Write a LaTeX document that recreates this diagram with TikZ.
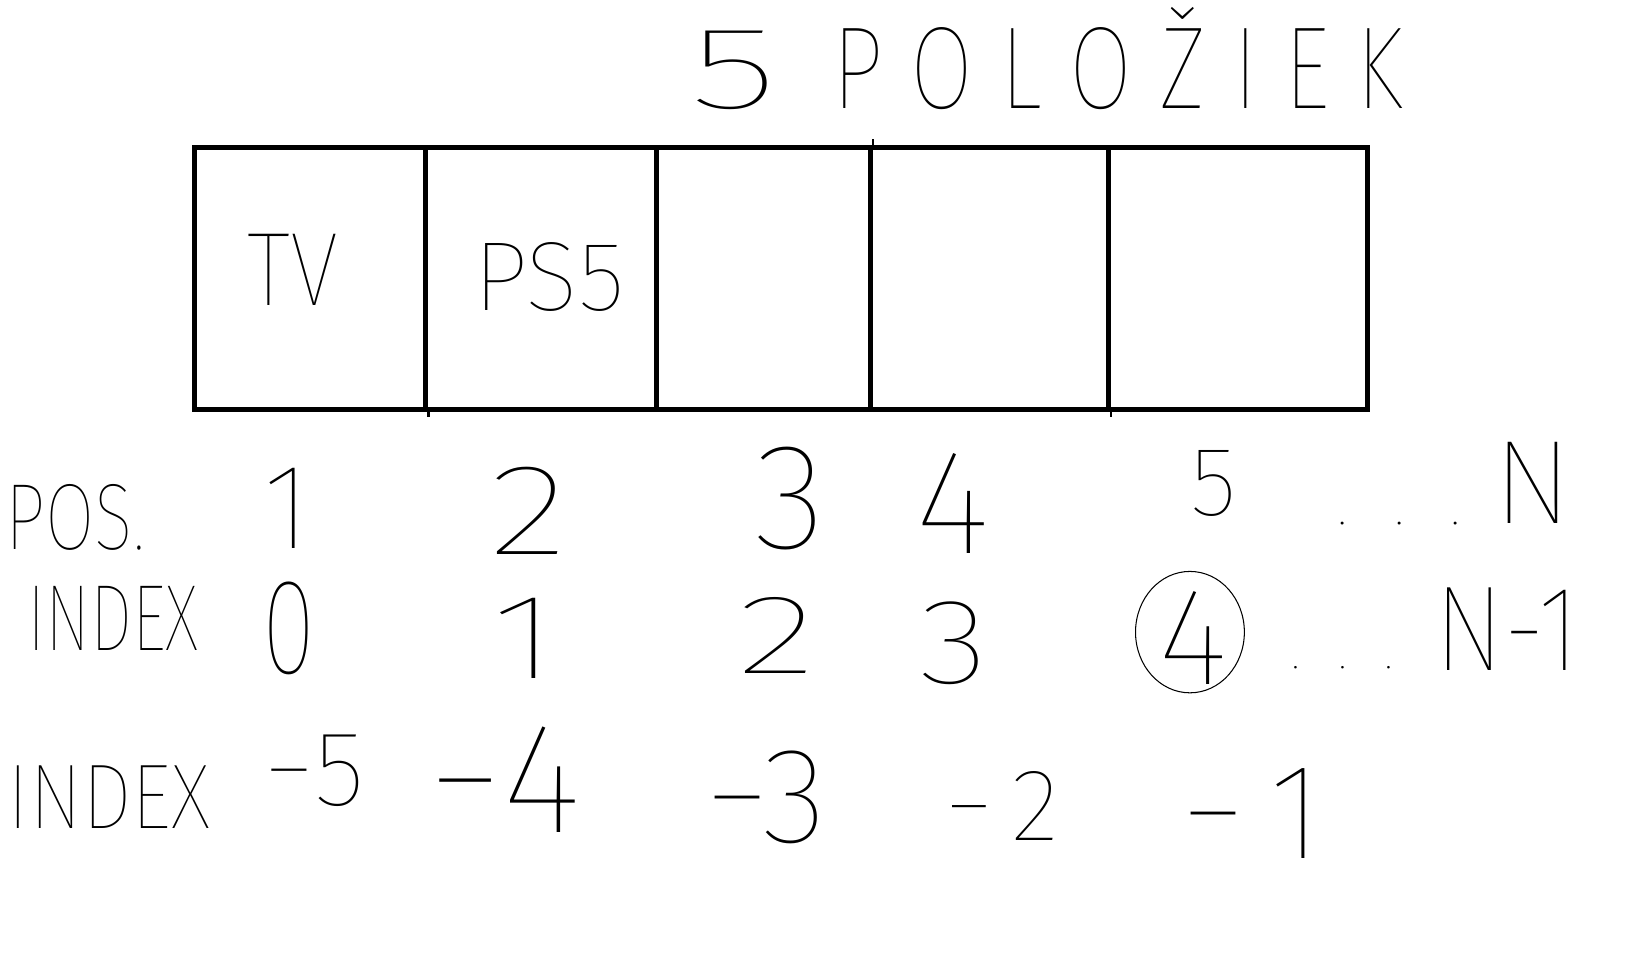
\documentclass[tikz,border=0pt]{standalone}
\usepackage{fontspec}
\usepackage{graphicx}
\usetikzlibrary{shapes.geometric}
\newfontfamily\hand{Fira Sans Thin}
\newcommand\sqz[2]{\scalebox{#1}[1]{#2}}
\tikzset{
  hw/.style={font=\hand\fontsize{#1}{#1}\selectfont, inner sep=0pt, text=black},
  cellbox/.style={draw=black, line width=2.4pt, minimum height=125pt, inner sep=0pt},
  ring/.style={draw=black, line width=0.5pt, ellipse, inner sep=0pt},
  tick/.style={draw=black, line width=1pt},
}
\begin{document}
\begin{tikzpicture}[x=0.5pt, y=-0.5pt]
\useasboundingbox[fill=white] (0,0) rectangle (1568,910);
% title
\node[hw=56] (title) at (1000,56) {\sqz{1.6}{5}\hspace{26pt}\sqz{0.78}{P O L O Ž I E K}};
% cells
\node[cellbox, minimum width=110.5pt] (c1) at (296.5,266) {};
\node[cellbox, minimum width=110pt] (c2) at (517,266) {};
\node[cellbox, minimum width=102.5pt] (c3) at (729.5,266) {};
\node[cellbox, minimum width=113.5pt] (c4) at (945.5,266) {};
\node[cellbox, minimum width=124pt] (c5) at (1183,266) {};
\draw[tick] (c3.north east) -- ++(0,-6);
\draw[tick] (c1.south east) -- ++(0,5);
\draw[tick] (c4.south east) -- ++(0,5);
\node[hw=50] (tv) at (280,258) {\sqz{0.86}{TV}};
\node[hw=47] (ps) at (525,265) {PS5};
% POS row
\node[hw=45] (poslab) at (72,494) {\sqz{0.76}{POS.}};
\node[hw=58] (p1) at (275,486) {1};
\node[hw=62] (p2) at (505,488) {\sqz{1.3}{2}};
\node[hw=72] (p3) at (755,476) {3};
\node[hw=71] (p4) at (910,481) {4};
\node[hw=47] (p5) at (1160,462) {5};
\node[hw=30] (pdots) at (1337,500) {.\hspace{22pt}.\hspace{22pt}.};
\node[hw=57] (pN) at (1465,461) {N};
% INDEX row
\node[hw=45] (ilab) at (108,591) {\sqz{0.72}{INDEX}};
\node[hw=65] (i0) at (276,600) {\sqz{0.72}{0}};
\node[hw=58] (i1) at (502,610) {\sqz{1.4}{1}};
\node[hw=54] (i2) at (742,607) {\sqz{1.5}{2}};
\node[hw=58] (i3) at (912,615) {\sqz{1.2}{3}};
\node[ring, minimum width=52pt, minimum height=58pt] (i4ring) at (1137,604) {};
\node[hw=66] (i4) at (1140,610) {4};
\node[hw=26] (idots) at (1283,638) {.\hspace{18pt}.\hspace{18pt}.};
\node[hw=58] (iN) at (1440,601) {\sqz{0.87}{N-1}};
% negative INDEX row
\node[hw=44] (nlab) at (104,762) {\sqz{0.87}{INDEX}};
\node[hw=51] (n5) at (300,736) {−5};
\node[hw=75] (n4) at (482,745) {−4};
\node[hw=65] (n3) at (732,762) {−3};
\node[hw=49] (n2) at (957,770) {−\,2};
\node[hw=65] (n1) at (1196,777) {−\,1};
\end{tikzpicture}
\end{document}
